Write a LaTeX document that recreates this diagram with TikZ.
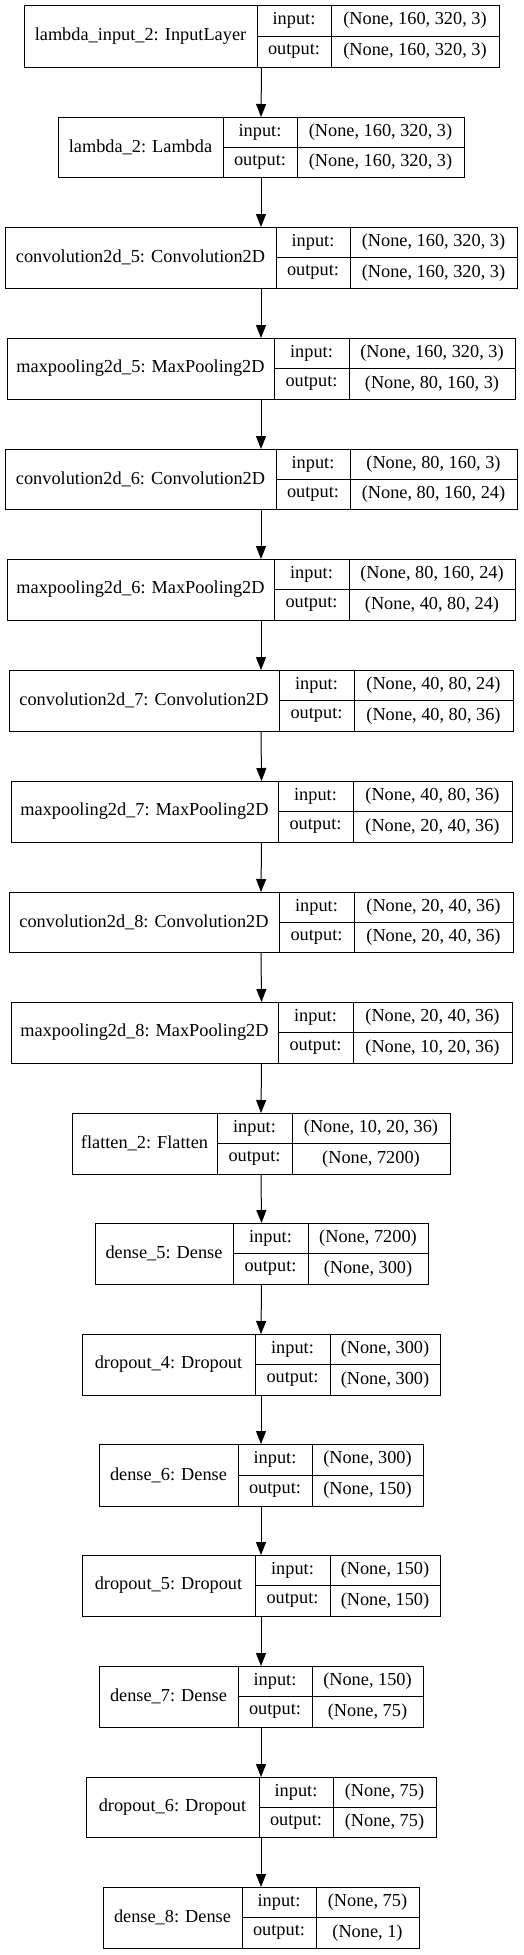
\documentclass[tikz,border=0pt]{standalone}
\usepackage{fontspec}
\setmainfont{Liberation Serif}
\usepackage{tikz}
\usetikzlibrary{arrows.meta, fit, positioning}

\begin{document}
\begin{tikzpicture}[x=1pt, y=-1pt, line width=1pt,
		layerbox/.style={draw, inner sep=0pt, outer sep=0pt},
		cell/.style={inner sep=0pt, font=\fontsize{18.3}{22}\selectfont},
		flow/.style={-{Triangle[length=13pt, width=10pt]}}]
		\useasboundingbox (0,0) rectangle (523,1955);
		
		% Layers
		\foreach \id/\ty/\by/\lx/\ax/\bx/\rx/\lname/\inp/\outp in {
			1/5/67/24/257/331/499/{lambda\_input\_2: InputLayer}/{(None, 160, 320, 3)}/{(None, 160, 320, 3)},
			2/117/177/58/223/297/464/{lambda\_2: Lambda}/{(None, 160, 320, 3)}/{(None, 160, 320, 3)},
			3/227/288/5/276/350/517/{convolution2d\_5: Convolution2D}/{(None, 160, 320, 3)}/{(None, 160, 320, 3)},
			4/338/399/7/274/349/515/{maxpooling2d\_5: MaxPooling2D}/{(None, 160, 320, 3)}/{(None, 80, 160, 3)},
			5/449/509/5/276/350/517/{convolution2d\_6: Convolution2D}/{(None, 80, 160, 3)}/{(None, 80, 160, 24)},
			6/559/620/7/274/349/515/{maxpooling2d\_6: MaxPooling2D}/{(None, 80, 160, 24)}/{(None, 40, 80, 24)},
			7/670/731/9/279/354/513/{convolution2d\_7: Convolution2D}/{(None, 40, 80, 24)}/{(None, 40, 80, 36)},
			8/781/842/11/278/353/512/{maxpooling2d\_7: MaxPooling2D}/{(None, 40, 80, 36)}/{(None, 20, 40, 36)},
			9/892/952/9/279/354/513/{convolution2d\_8: Convolution2D}/{(None, 20, 40, 36)}/{(None, 20, 40, 36)},
			10/1002/1063/11/278/353/512/{maxpooling2d\_8: MaxPooling2D}/{(None, 20, 40, 36)}/{(None, 10, 20, 36)},
			11/1113/1174/72/217/292/450/{flatten\_2: Flatten}/{(None, 10, 20, 36)}/{(None, 7200)},
			12/1223/1284/95/233/308/428/{dense\_5: Dense}/{(None, 7200)}/{(None, 300)},
			13/1334/1395/82/255/330/440/{dropout\_4: Dropout}/{(None, 300)}/{(None, 300)},
			14/1444/1506/99/238/312/423/{dense\_6: Dense}/{(None, 300)}/{(None, 150)},
			15/1555/1616/82/255/330/440/{dropout\_5: Dropout}/{(None, 150)}/{(None, 150)},
			16/1666/1727/99/238/312/423/{dense\_7: Dense}/{(None, 150)}/{(None, 75)},
			17/1777/1837/86/259/333/436/{dropout\_6: Dropout}/{(None, 75)}/{(None, 75)},
			18/1887/1948/103/242/316/419/{dense\_8: Dense}/{(None, 75)}/{(None, 1)}}
		{
			\node [layerbox, fit={(\lx,\ty) (\rx,\by)}] (b\id) {};
			\draw (\ax,\ty) -- (\ax,\by);
			\draw (\bx,\ty) -- (\bx,\by);
			\draw (\ax,{(\ty+\by)/2}) -- (\rx,{(\ty+\by)/2});
			\node [cell] (n\id) at ({(\lx+\ax)/2},{(\ty+\by)/2}) {\lname};
			\node [cell] (i\id) at ({(\ax+\bx)/2},{(3*\ty+\by)/4}) {input:};
			\node [cell] (o\id) at ({(\ax+\bx)/2},{(\ty+3*\by)/4}) {output:};
			\node [cell] (iv\id) at ({(\bx+\rx)/2},{(3*\ty+\by)/4}) {\inp};
			\node [cell] (ov\id) at ({(\bx+\rx)/2},{(\ty+3*\by)/4}) {\outp};
		}
		
		% Arrows
		\foreach \i [evaluate=\i as \j using int(\i+1)] in {1,...,17}
			\draw[flow] (b\i.south) -- (b\j.north);
	\end{tikzpicture}
\end{document}
